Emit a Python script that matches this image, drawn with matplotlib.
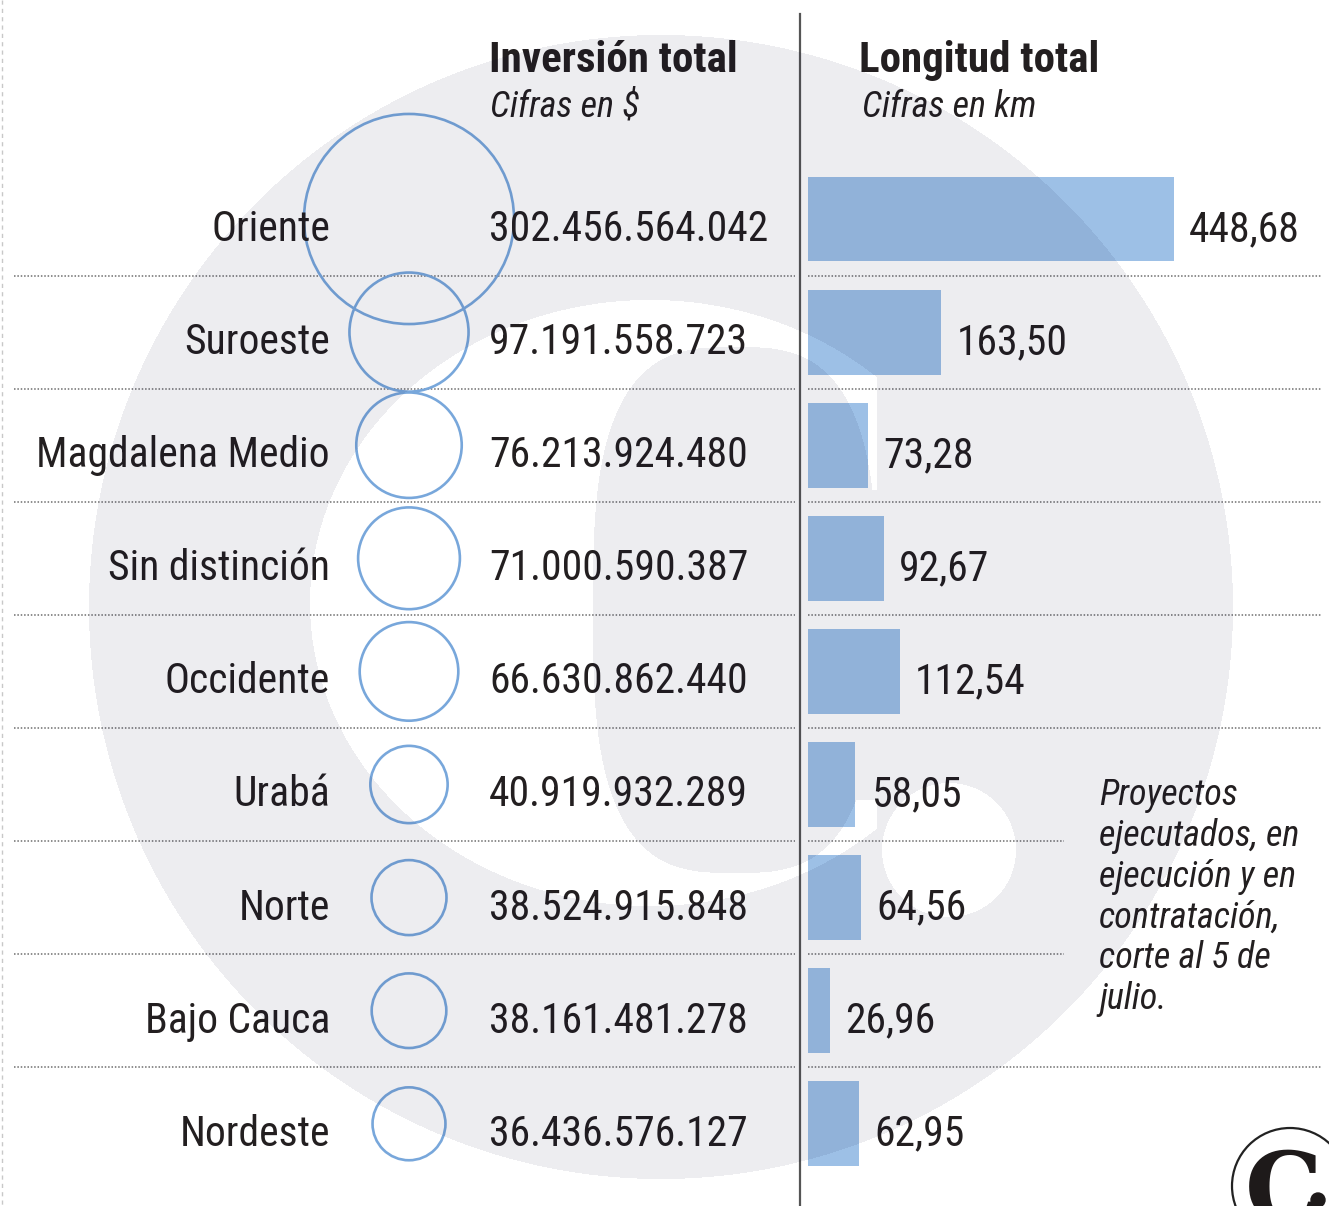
import numpy as np
import matplotlib
matplotlib.use("Agg")
import matplotlib.pyplot as plt
from matplotlib.patches import Circle

# ---------------- data ----------------
regions = ["Oriente", "Suroeste", "Magdalena Medio", "Sin distinción", "Occidente",
           "Urabá", "Norte", "Bajo Cauca", "Nordeste"]
inversion = [302456564042, 97191558723, 76213924480, 71000590387, 66630862440,
             40919932289, 38524915848, 38161481278, 36436576127]
inversion_labels = ["302.456.564.042", "97.191.558.723", "76.213.924.480", "71.000.590.387",
                    "66.630.862.440", "40.919.932.289", "38.524.915.848", "38.161.481.278",
                    "36.436.576.127"]
longitud = [448.68, 163.50, 73.28, 92.67, 112.54, 58.05, 64.56, 26.96, 62.95]
longitud_labels = ["448,68", "163,50", "73,28", "92,67", "112,54", "58,05", "64,56", "26,96", "62,95"]
title_left = "Inversión total"
sub_left = "Cifras en $"
title_right = "Longitud total"
sub_right = "Cifras en km"
note = "Proyectos\nejecutados, en\nejecución y en\ncontratación,\ncorte al 5 de\njulio."

# ---------------- layout ----------------
W, H = 1329, 1206
ROW0, ROWH = 219.0, 113.1          # pixel centre of first row, row pitch
def py(p):                          # pixel y -> row units
    return (p - ROW0) / ROWH
Y_TOP, Y_BOT = py(0), py(H)

TXT = "#231f20"
COND = ["Roboto Condensed", "DejaVu Sans"]
BLUE_EDGE = "#78a7db"
BAR_C = "#9dc0e6"
FS = 30

fig = plt.figure(figsize=(W / 100, H / 100), dpi=100)
fig.patch.set_facecolor("white")

ax = fig.add_axes([0, 0, 1, 1])
ax.set_xlim(0, W)
ax.set_ylim(Y_BOT, Y_TOP)
ax.axis("off")

n = len(regions)
rows = np.arange(n)
base_off = 22 / ROWH   # baseline offset below row centre

# left dashed border
ax.plot([2, 2], [Y_TOP, Y_BOT], color="#c8c8c8", lw=1, ls=(0, (3, 3)))

# vertical divider
ax.plot([800, 800], [py(14), Y_BOT], color="#555555", lw=1.6, zorder=3)

# separators
for i in range(n - 1):
    yy = i + 0.5
    ax.plot([14, 795], [yy, yy], color="#6f6f6f", lw=1.1, ls=(0, (1, 1.2)), zorder=2)
    xr = 1064 if i in (5, 6) else 1322
    ax.plot([808, xr], [yy, yy], color="#6f6f6f", lw=1.1, ls=(0, (1, 1.2)), zorder=2)

# headers
ax.text(489, py(72), title_left, fontsize=31, fontweight="bold", family=COND,
        color=TXT, va="baseline", ha="left")
ax.text(490, py(117), sub_left, fontsize=26, style="italic", family=COND,
        color=TXT, va="baseline", ha="left")
ax.text(859, py(72), title_right, fontsize=31, fontweight="bold", family=COND,
        color=TXT, va="baseline", ha="left")
ax.text(862, py(117), sub_right, fontsize=26, style="italic", family=COND,
        color=TXT, va="baseline", ha="left")

# circles (area proportional to investment)
S_PER_UNIT = 75.65e-9
ax.scatter(np.full(n, 409.0), rows, s=np.array(inversion) * S_PER_UNIT,
           facecolors="none", edgecolors=BLUE_EDGE, linewidths=1.9, zorder=4)

# region labels and investment numbers
for i in range(n):
    ax.text(330, i + base_off, regions[i], fontsize=FS, family=COND, color=TXT,
            ha="right", va="baseline", zorder=5)
    ax.text(489, i + base_off, inversion_labels[i], fontsize=FS, family=COND, color=TXT,
            ha="left", va="baseline", zorder=5)

# note
ax.text(1099, py(777), note, fontsize=26, style="italic", family=COND, color=TXT,
        ha="left", va="top", linespacing=1.17, zorder=5)

# logo (bottom right) in pixel coordinates
axl = fig.add_axes([0, 0, 1, 1], zorder=6)
axl.set_xlim(0, W)
axl.set_ylim(H, 0)
axl.axis("off")
axl.patch.set_alpha(0)
axl.add_patch(Circle((1290, 1186), 58, fill=False, ec="#222222", lw=1.6))
axl.text(1284, 1222, "C", fontsize=70, fontweight="bold", family=["DejaVu Serif"],
         color="#1e1a1a", ha="center", va="baseline")
axl.add_patch(Circle((1318, 1200), 7, color="#1e1a1a"))

# bars in km units
PX_PER_KM = 0.8157
axb = fig.add_axes([808 / W, 0, (W - 808) / W, 1], zorder=2)
axb.set_xlim(0, (W - 808) / PX_PER_KM)
axb.set_ylim(Y_BOT, Y_TOP)
axb.axis("off")
axb.patch.set_alpha(0)
axb.barh(rows, longitud, height=0.75, color=BAR_C, zorder=3)
for i in range(n):
    axb.annotate(longitud_labels[i], (longitud[i], i + base_off), xytext=(11, 0),
                 textcoords="offset points", fontsize=FS, family=COND, color=TXT,
                 ha="left", va="baseline")

# watermark (multiply-like darkening overlay)
X, Y = np.meshgrid(np.arange(W) + 0.5, np.arange(H) + 0.5)
disk = (X - 661) ** 2 + (Y - 607) ** 2 <= 572 ** 2
outer = ((X - 650) / 340) ** 2 + ((Y - 603) / 303) ** 2 <= 1
counter = np.abs((X - 735) / 142) ** 3 + np.abs((Y - 610) / 263) ** 3 <= 1
opening = (X > 790) & (Y > 490) & (Y < 800)
whiteC = outer & (X < 877) & ~counter & ~opening
dot = (X - 949) ** 2 + (Y - 850) ** 2 <= 67 ** 2
gray = disk & ~whiteC & ~dot
rgba = np.zeros((H, W, 4))
rgba[..., 2] = 54 / 255
rgba[..., 3] = np.where(gray, 0.0745, 0.0)
fig.figimage(rgba, 0, 0, zorder=10, origin="upper")

fig.savefig("out.png", dpi=100, facecolor="white")
